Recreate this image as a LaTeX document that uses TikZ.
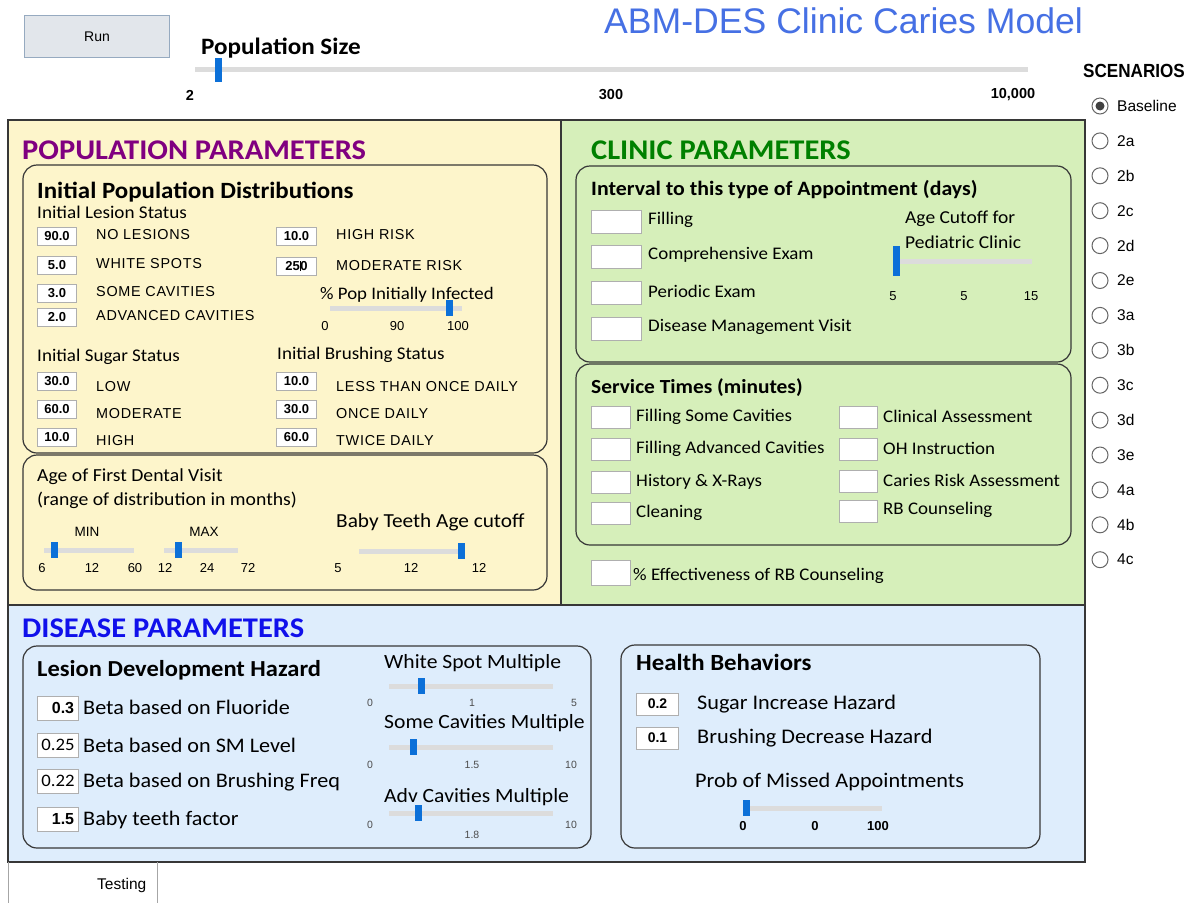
\documentclass[tikz,border=0pt]{standalone}
\usepackage{fontspec}
\setmainfont{Carlito}[FakeStretch=1.07]
\newfontfamily\arial{Liberation Sans}
\newfontfamily\capsf[LetterSpace=5]{Liberation Sans}
\definecolor{titleblue}{RGB}{70,112,228}
\definecolor{popfill}{RGB}{253,245,203}
\definecolor{clinfill}{RGB}{214,239,186}
\definecolor{disfill}{RGB}{222,237,252}
\definecolor{popcol}{RGB}{128,0,128}
\definecolor{clincol}{RGB}{0,128,0}
\definecolor{discol}{RGB}{16,16,235}
\definecolor{trackc}{RGB}{220,220,220}
\definecolor{thumbc}{RGB}{12,112,216}
\definecolor{bordc}{RGB}{55,55,55}
\definecolor{boxbord}{RGB}{175,175,175}
\definecolor{runbord}{RGB}{150,170,192}
\definecolor{runfill}{RGB}{226,230,235}
\newcommand\fs[1]{\fontsize{#1}{#1}\selectfont}
\newcommand\mkslider[5][8]{%
  \fill[trackc] (#2,#4-2.5) rectangle (#3,#4+2.5);
  \fill[thumbc] (#5-3.5,#4-#1) rectangle (#5+3.5,#4+#1);}
\tikzset{
  panel/.style={draw=bordc,line width=1.3pt},
  rbox/.style={draw=bordc,line width=1.2pt,rounded corners=14pt},
  inb/.style={draw=boxbord,fill=white,line width=1pt,inner sep=0pt,anchor=west,font=\arial\bfseries\fs{13}},
  lbl/.style={anchor=west,inner sep=0pt},
  caps/.style={lbl,font=\capsf\fs{14.4}},
  tick/.style={inner sep=0pt,font=\arial\fs{13}},
  radio/.style={draw=black!60,fill=white,line width=1pt,circle,minimum size=16pt,inner sep=0pt},
}
\begin{document}
\begin{tikzpicture}[x=1pt,y=-1pt]
\useasboundingbox (0,0) rectangle (1190,903);
\fill[white] (0,0) rectangle (1190,903);
% ---------- top bar
\node[draw=runbord,fill=runfill,line width=1pt,minimum width=145pt,minimum height=42pt,anchor=north west,font=\arial\fs{14}] (run) at (24,15) {Run};
\node[lbl,font=\bfseries\fs{23.5}] (popsize) at (201,48) {Population Size};
\mkslider[12]{195}{1028}{69.5}{218}
\node[tick,font=\arial\bfseries\fs{14.5}] (ps1) at (190,95) {2};
\node[tick,font=\arial\bfseries\fs{14.5}] (ps2) at (611,95) {300};
\node[tick,font=\arial\bfseries\fs{14.5}] (ps3) at (1013,95) {10,000};
\node[lbl,font=\arial\fs{35.6},text=titleblue] (title) at (604,21) {ABM-DES Clinic Caries Model};
% ---------- scenarios
\node[lbl,font=\arial\bfseries\fs{19}] (scen) at (1083,71) {\addfontfeature{FakeStretch=0.9}SCENARIOS};
\foreach \lab [count=\i from 0] in {Baseline,2a,2b,2c,2d,2e,3a,3b,3c,3d,3e,4a,4b,4c}{
  \node[radio] (r\i) at (1100,{106+34.9*\i}) {};
  \node[lbl,font=\arial\fs{15.5}] (rl\i) at (1117,{106+34.9*\i}) {\lab};
}
\fill[black!75] (r0) circle (4.5pt);
% ---------- panels
\fill[popfill] (8,120) rectangle (561,605);
\fill[clinfill] (561,120) rectangle (1085,605);
\fill[disfill] (8,605) rectangle (1085,862);
\draw[panel] (8,120) rectangle (561,605);
\draw[panel] (561,120) rectangle (1085,605);
\draw[panel] (8,605) rectangle (1085,862);
\draw[draw=black!35,line width=1pt] (8,862) -- (8,903) (157,862) -- (157,903);
\node[lbl,font=\arial\fs{15.5}] (tab) at (97,885) {Testing};
% ---------- population parameters
\node[lbl,font=\bfseries\fs{28.5},text=popcol] (pophead) at (22,150) {POPULATION PARAMETERS};
\draw[rbox] (23,165) rectangle (547,453);
\draw[rbox] (23,455) rectangle (547,590);
\node[lbl,font=\bfseries\fs{23.3}] (ipd) at (37,192) {Initial Population Distributions};
\node[lbl,font=\fs{17.9}] (ils) at (37,212) {Initial Lesion Status};
\foreach \v/\t/\y in {90.0/NO LESIONS/236,5.0/WHITE SPOTS/265,3.0/SOME CAVITIES/293,2.0/ADVANCED CAVITIES/317}{
  \node[inb,minimum width=39pt,minimum height=18pt] at (37,\y) {\v};
  \node[caps] at (96,\y-1) {\t};
}
\node[inb,minimum width=40pt,minimum height=18pt] (hr) at (276,236) {10.0};
\node[caps] (hrl) at (336,235) {HIGH RISK};
\node[inb,minimum width=40pt,minimum height=18pt] (mr) at (276,266) {25\raisebox{-1pt}{\rule{0.6pt}{10pt}}0};
\node[caps] (mrl) at (336,266) {MODERATE RISK};
\node[lbl,font=\fs{17.6}] (ppi) at (320,295) {\% Pop Initially Infected};
\mkslider{330}{462}{308}{449}
\node[tick] at (325,326) {0};
\node[tick] at (397,326) {90};
\node[tick] at (458,326) {100};
\node[lbl,font=\fs{17.8}] (iss) at (37,357) {Initial Sugar Status};
\node[lbl,font=\fs{17.8}] (ibs) at (277,355) {Initial Brushing Status};
\foreach \v/\t/\y/\ly in {30.0/LOW/381/387,60.0/MODERATE/409/414,10.0/HIGH/437/441}{
  \node[inb,minimum width=39pt,minimum height=18pt] at (37,\y) {\v};
  \node[caps] at (96,\ly) {\t};
}
\foreach \v/\t/\y/\ly in {10.0/LESS THAN ONCE DAILY/381/387,30.0/ONCE DAILY/409/414,60.0/TWICE DAILY/437/441}{
  \node[inb,minimum width=40pt,minimum height=18pt] at (276,\y) {\v};
  \node[caps] at (336,\ly) {\t};
}
\node[lbl,font=\fs{18.4}] (afdv) at (37,477) {Age of First Dental Visit};
\node[lbl,font=\fs{18.4}] (rng) at (37,500) {(range of distribution in months)};
\node[tick,font=\arial\fs{13.5}] (minl) at (87,532) {MIN};
\node[tick,font=\arial\fs{13.5}] (maxl) at (204,532) {MAX};
\mkslider{44}{134}{550}{54}
\mkslider{164}{238}{550}{178}
\foreach \x/\t in {42/6,92/12,135/60,165/12,207/24,248/72}{\node[tick] at (\x,568) {\t};}
\node[lbl,font=\fs{19.9}] (btac) at (336,522) {Baby Teeth Age cutoff};
\mkslider{359}{463}{551}{461}
\foreach \x/\t in {338/5,411/12,479/12}{\node[tick] at (\x,568) {\t};}
% ---------- clinic parameters
\node[lbl,font=\bfseries\fs{28.5},text=clincol] (clinhead) at (591,150) {CLINIC PARAMETERS};
\draw[rbox] (576,166) rectangle (1071,362);
\draw[rbox] (576,364) rectangle (1071,545);
\node[lbl,font=\bfseries\fs{20.4}] (iva) at (591,190) {Interval to this type of Appointment (days)};
\foreach \t/\y in {Filling/222,Comprehensive Exam/257,Periodic Exam/293,Disease Management Visit/329}{
  \node[inb,minimum width=50pt,minimum height=23pt] at (591,\y) {};
  \node[lbl,font=\fs{17.7}] at (648,\y-2) {\t};
}
\node[lbl,font=\fs{18.2}] (acf1) at (905,219) {Age Cutoff for};
\node[lbl,font=\fs{18.2}] (acf2) at (905,242) {Pediatric Clinic};
\mkslider[15]{895}{1032}{261}{896}
\foreach \x/\t in {893/5,964/5,1031/15}{\node[tick] at (\x,296) {\t};}
\node[lbl,font=\bfseries\fs{20}] (stm) at (591,388) {Service Times (minutes)};
\foreach \t/\y in {Filling Some Cavities/417,Filling Advanced Cavities/449,History \& X-Rays/482,Cleaning/513}{
  \node[inb,minimum width=39pt,minimum height=22pt] at (591,\y) {};
  \node[lbl,font=\fs{17.7}] at (636,\y) {\t};
}
\foreach \t/\y in {Clinical Assessment/417,OH Instruction/449,Caries Risk Assessment/481,RB Counseling/511}{
  \node[inb,minimum width=38pt,minimum height=22pt] at (839,\y) {};
  \node[lbl,font=\fs{17.7}] at (883,\y-1) {\t};
}
\node[inb,minimum width=39pt,minimum height=25pt] (eff) at (591,573) {};
\node[lbl,font=\fs{17.7}] (effl) at (633,576) {\% Effectiveness of RB Counseling};
% ---------- disease parameters
\node[lbl,font=\bfseries\fs{28.5},text=discol] (dishead) at (22,628) {DISEASE PARAMETERS};
\draw[rbox] (23,646) rectangle (591,848);
\draw[rbox] (621,645) rectangle (1040,848);
\node[lbl,font=\bfseries\fs{22.9}] (ldh) at (37,670) {Lesion Development Hazard};
\node[inb,minimum width=41pt,minimum height=24pt,font=\arial\bfseries\fs{16}] (b1) at (37,708) {\hspace*{10pt}0.3};
\node[inb,minimum width=41pt,minimum height=24pt,font=\fs{17.5}] (b2) at (37,745) {0.25};
\node[inb,minimum width=41pt,minimum height=24pt,font=\fs{17.5}] (b3) at (37,781) {0.22};
\node[inb,minimum width=41pt,minimum height=24pt,font=\arial\bfseries\fs{16}] (b4) at (37,819) {\hspace*{10pt}1.5};
\foreach \t/\y in {Beta based on Fluoride/707,Beta based on SM Level/745,Beta based on Brushing Freq/782,Baby teeth factor/820}{
  \node[lbl,font=\fs{20.7}] at (83,\y) {\t};
}
\node[lbl,font=\fs{20.2}] (wsm) at (384,663) {White Spot Multiple};
\mkslider{389}{553}{686}{421}
\foreach \x/\t in {370/0,472/1,574/5}{\node[tick,font=\arial\fs{10.5},text=black!70] at (\x,703) {\t};}
\node[lbl,font=\fs{20.2}] (scm) at (384,723) {Some Cavities Multiple};
\mkslider{389}{553}{747}{413}
\foreach \x/\t in {370/0,472/1.5,571/10}{\node[tick,font=\arial\fs{10.5},text=black!70] at (\x,765) {\t};}
\node[lbl,font=\fs{20.2}] (acm) at (384,797) {Adv Cavities Multiple};
\mkslider{389}{553}{813}{418}
\node[tick,font=\arial\fs{10.5},text=black!70] at (370,825) {0};
\node[tick,font=\arial\fs{10.5},text=black!70] at (472,835) {1.8};
\node[tick,font=\arial\fs{10.5},text=black!70] at (571,825) {10};
\node[lbl,font=\bfseries\fs{23.2}] (hb) at (636,662) {Health Behaviors};
\node[inb,minimum width=42pt,minimum height=22pt,font=\arial\bfseries\fs{14}] (s1) at (636,704) {0.2};
\node[inb,minimum width=42pt,minimum height=22pt,font=\arial\bfseries\fs{14}] (s2) at (636,738) {0.1};
\node[lbl,font=\fs{20.8}] (sih) at (697,704) {Sugar Increase Hazard};
\node[lbl,font=\fs{20.8}] (bdh) at (697,738) {Brushing Decrease Hazard};
\node[lbl,font=\fs{20.8}] (pma) at (695,782) {Prob of Missed Appointments};
\mkslider{743}{882}{808}{746}
\foreach \x/\t in {743/0,815/0,878/100}{\node[tick,font=\arial\bfseries\fs{13}] at (\x,826) {\t};}
\end{tikzpicture}
\end{document}
